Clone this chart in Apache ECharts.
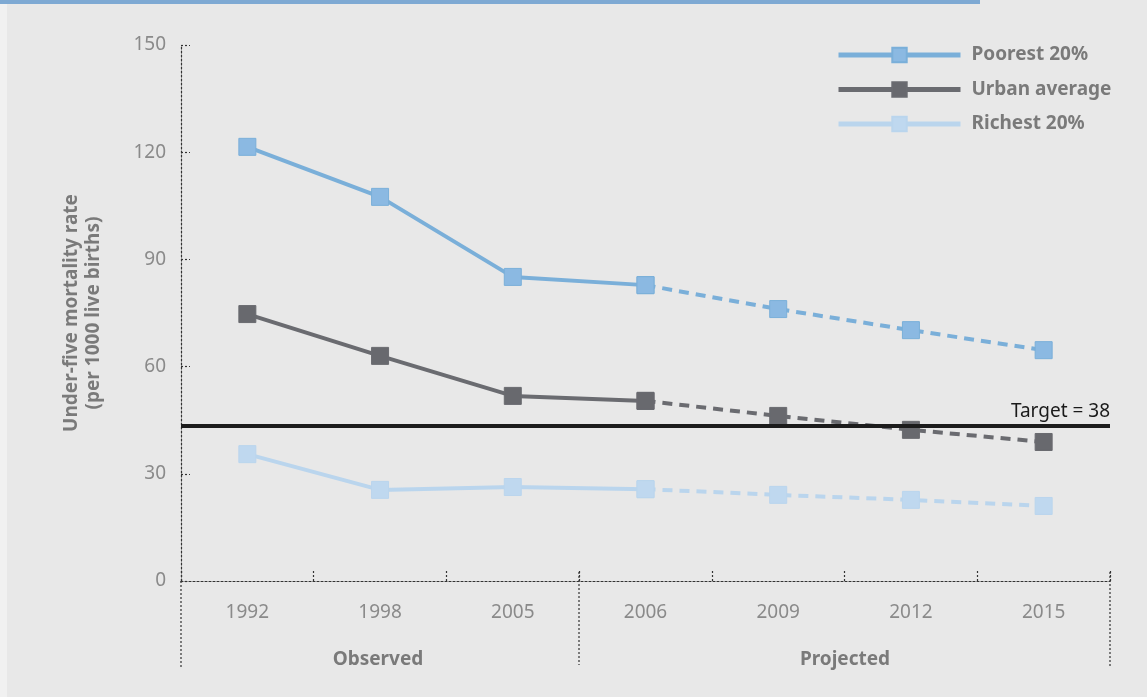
<!DOCTYPE html>
<html>
<head>
<meta charset="utf-8">
<script src="https://cdn.jsdelivr.net/npm/echarts@6/dist/echarts.min.js"></script>
<style>
  html, body { margin: 0; padding: 0; background: #e8e8e8; }
  #chart { width: 1147px; height: 697px; }
</style>
</head>
<body>
<div id="chart"></div>
<script>
// 数据
var years = ['1992', '1998', '2005', '2006', '2009', '2012', '2015'];
var poorest = [121.5, 107.5, 85.1, 82.8, 76.1, 70.2, 64.6];
var urban = [74.7, 63.0, 51.8, 50.4, 46.2, 42.3, 38.9];
var richest = [35.5, 25.5, 26.3, 25.7, 24.1, 22.7, 21.0];
var yTicks = [0, 30, 60, 90, 120, 150];
var targetLine = 43.4; // drawn position of the target line
var targetText = 'Target = 38';
var observedCount = 4; // 1992..2006 solid, then projected dashed

var colors = {
  poorest: '#7aafd9',
  urban: '#6a6b70',
  richest: '#bad5ed'
};
var markerColors = {
  poorest: '#8bb9e2',
  urban: '#68696e',
  richest: '#bfd8ef'
};

function solidPart(arr) {
  return arr.map(function (v, i) { return i < observedCount ? v : null; });
}
function dashedPart(arr) {
  return arr.map(function (v, i) { return i >= observedCount - 1 ? v : null; });
}

function makeSeries(name, arr, key, dashed) {
  return {
    name: dashed ? name + ' (projected)' : name,
    type: 'line',
    data: dashed ? dashedPart(arr) : solidPart(arr),
    symbol: 'rect',
    symbolSize: 17,
    z: dashed ? 3 : 4,
    lineStyle: { color: colors[key], width: 4, type: dashed ? [10, 7] : 'solid' },
    itemStyle: { color: markerColors[key], borderColor: colors[key], borderWidth: 1 },
    emphasis: { disabled: true }
  };
}

var grid = { left: 181, right: 37, top: 45, bottom: 116 };
var axisGrey = '#8a8a8a';
var dotted = { color: '#333', width: 1.2, type: [2, 2] };

var myChart = echarts.init(document.getElementById('chart'));
var option = {
  backgroundColor: '#e8e8e8',
  animation: false,
  grid: grid,
  legend: {
    data: ['Poorest 20%', 'Urban average', 'Richest 20%'],
    orient: 'vertical',
    left: 836,
    top: 45,
    padding: 0,
    itemWidth: 122,
    itemHeight: 18,
    itemGap: 14.5,
    lineStyle: { width: 5 },
    textStyle: {
      fontFamily: 'Noto Sans',
      fontWeight: 'bold',
      fontSize: 19,
      lineHeight: 20,
      color: '#7a7a7a',
      padding: [0, 0, 0, 6]
    }
  },
  xAxis: {
    type: 'category',
    data: years,
    boundaryGap: true,
    axisLine: { lineStyle: dotted },
    axisTick: { show: true, inside: true, length: 10, lineStyle: dotted },
    axisLabel: {
      color: axisGrey,
      fontFamily: 'Noto Sans',
      fontSize: 19,
      margin: 22
    },
    splitLine: { show: false }
  },
  yAxis: {
    type: 'value',
    min: yTicks[0],
    max: yTicks[yTicks.length - 1],
    interval: 30,
    name: 'Under-five mortality rate\n(per 1000 live births)',
    nameLocation: 'middle',
    nameGap: 76,
    nameTextStyle: {
      fontFamily: 'Noto Sans',
      fontWeight: 'bold',
      fontSize: 19,
      color: '#7a7a7a',
      lineHeight: 22
    },
    axisLine: { show: true, lineStyle: dotted },
    axisTick: { show: true, inside: true, length: 9, lineStyle: dotted },
    axisLabel: {
      color: axisGrey,
      fontFamily: 'Noto Sans',
      fontSize: 19,
      margin: 15
    },
    splitLine: { show: false }
  },
  graphic: [
    { type: 'rect', left: 0, top: 0, shape: { width: 980, height: 4 }, style: { fill: '#7ea9d3' } },
    { type: 'rect', left: 0, top: 4, shape: { width: 7, height: 693 }, style: { fill: '#f1f1f1' } },
    // long dividers below the axis
    { type: 'line', shape: { x1: 181, y1: 581, x2: 181, y2: 667 }, style: { stroke: '#333', lineWidth: 1.2, lineDash: [2, 2] } },
    { type: 'line', shape: { x1: 579, y1: 572, x2: 579, y2: 665 }, style: { stroke: '#333', lineWidth: 1.2, lineDash: [2, 2] } },
    { type: 'line', shape: { x1: 1110, y1: 572, x2: 1110, y2: 667 }, style: { stroke: '#333', lineWidth: 1.2, lineDash: [2, 2] } },
    { type: 'text', x: 378, y: 660, style: { text: 'Observed', fill: '#7a7a7a', font: 'bold 19px "Noto Sans"', textAlign: 'center', textVerticalAlign: 'middle' } },
    { type: 'text', x: 845, y: 660, style: { text: 'Projected', fill: '#7a7a7a', font: 'bold 19px "Noto Sans"', textAlign: 'center', textVerticalAlign: 'middle' } }
  ],
  series: [
    {
      name: 'target',
      type: 'line',
      data: [],
      z: 2,
      markLine: {
        silent: true,
        symbol: 'none',
        lineStyle: { color: '#1c1c1c', width: 4, type: 'solid' },
        label: {
          formatter: targetText,
          position: 'insideEndTop',
          color: '#1a1a1a',
          fontFamily: 'Noto Sans',
          fontSize: 19,
          distance: [0, 5]
        },
        data: [{ yAxis: targetLine }]
      }
    },
    makeSeries('Poorest 20%', poorest, 'poorest', false),
    makeSeries('Urban average', urban, 'urban', false),
    makeSeries('Richest 20%', richest, 'richest', false),
    makeSeries('Poorest 20%', poorest, 'poorest', true),
    makeSeries('Urban average', urban, 'urban', true),
    makeSeries('Richest 20%', richest, 'richest', true)
  ]
};
myChart.setOption(option);
</script>
</body>
</html>
